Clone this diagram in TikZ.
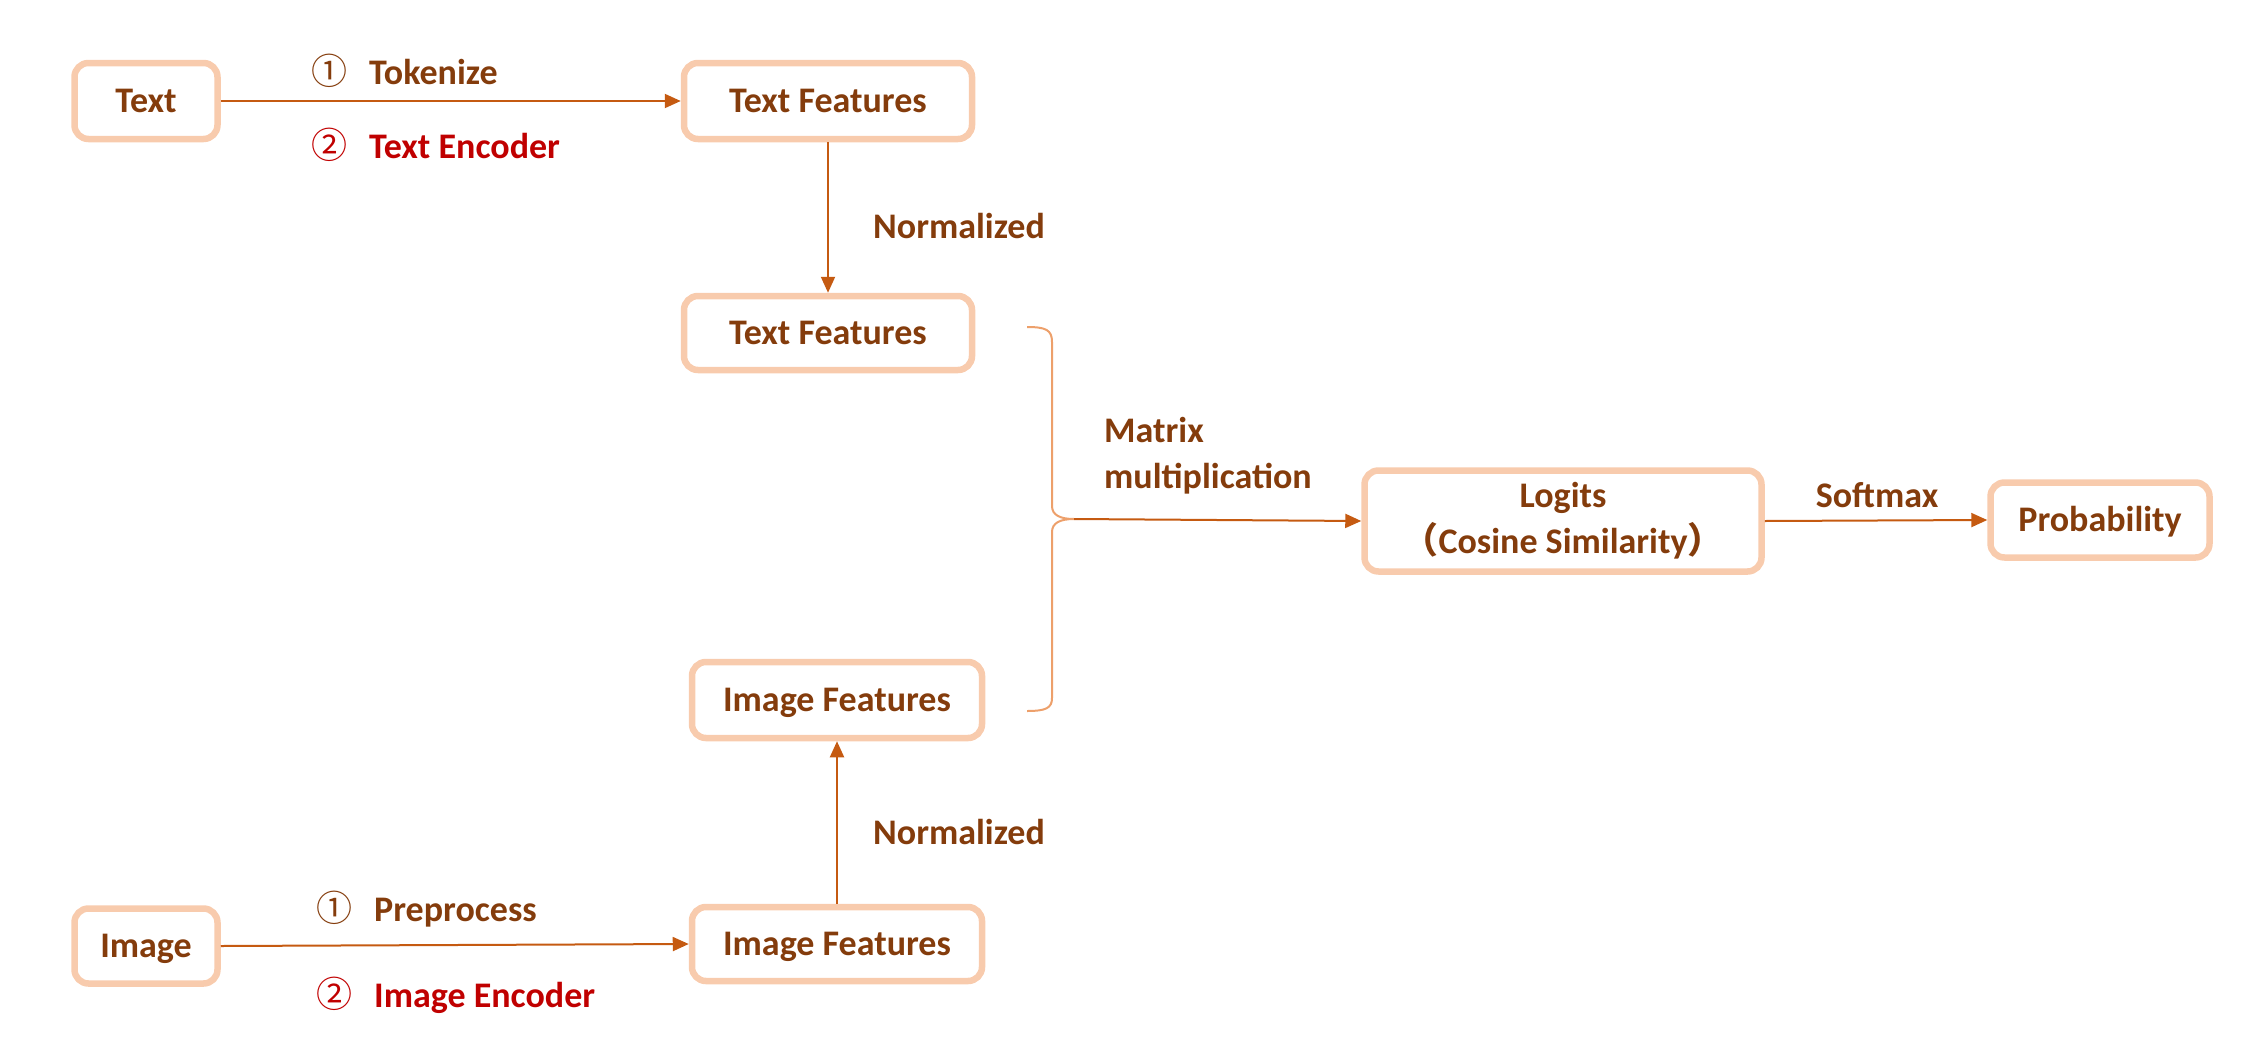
\documentclass[tikz,border=0pt]{standalone}
\usepackage{fontspec}
\setmainfont{Carlito}
\newfontfamily\cjk{Noto Sans CJK SC}
\usetikzlibrary{arrows.meta}
\definecolor{boxc}{HTML}{F8CBAD}
\definecolor{linec}{HTML}{C55A11}
\definecolor{txtc}{HTML}{843C0C}
\definecolor{redc}{HTML}{C00000}
\definecolor{bracec}{HTML}{EDA06B}
\tikzset{
  box/.style={draw=boxc, line width=6.5pt, rounded corners=14pt, inner sep=0pt,
    font=\fontsize{36}{46}\selectfont\bfseries, text=txtc, align=center},
  onebox/.style={box, text height=23pt, text depth=0pt},
  lbl/.style={font=\fontsize{36}{46}\selectfont\bfseries, text=txtc, inner sep=0pt},
  conn/.style={draw=linec, line width=2pt, -{Triangle[length=16pt,width=14pt]}},
  bracepath/.style={draw=bracec, line width=2pt}
}
\begin{document}
\begin{tikzpicture}[x=1pt,y=-1pt]
\useasboundingbox (0,0) rectangle (2242,1052);
\node[onebox, minimum width=143pt, minimum height=76pt] (text) at (146,101) {Text};
\node[onebox, minimum width=288pt, minimum height=76pt] (tf1) at (828,101) {Text Features};
\node[onebox, minimum width=288pt, minimum height=74pt] (tf2) at (828,333) {Text Features};
\node[onebox, minimum width=290pt, minimum height=76pt] (if2) at (837,700) {Image Features};
\node[onebox, minimum width=290pt, minimum height=74pt] (if1) at (837,944) {Image Features};
\node[onebox, minimum width=143pt, minimum height=75pt] (img) at (146,946) {Image};
\node[box, minimum width=397pt, minimum height=101pt] (logits) at (1563,521) {Logits\\{\cjk （}Cosine Similarity{\cjk ）}};
\node[onebox, minimum width=219pt, minimum height=75pt] (prob) at (2100,520) {Probability};

\node[lbl, anchor=west] (tok) at (311,71) {{\cjk\mdseries ①}\hspace{22pt}Tokenize};
\node[lbl, anchor=west, text=redc] (tenc) at (311,145) {{\cjk\mdseries ②}\hspace{22pt}Text Encoder};
\node[lbl, anchor=west] (norm1) at (873,226) {Normalized};
\node[lbl, anchor=west, align=left] (mm) at (1104,456) {Matrix\\multiplication};
\node[lbl] (soft) at (1877,495) {Softmax};
\node[lbl, anchor=west] (norm2) at (873,832) {Normalized};
\node[lbl, anchor=west] (pre) at (316,909) {{\cjk\mdseries ①}\hspace{22pt}Preprocess};
\node[lbl, anchor=west, text=redc] (ienc) at (316,995) {{\cjk\mdseries ②}\hspace{22pt}Image Encoder};

\coordinate (tip) at (1074,519);
\draw[bracepath] (1027,327) .. controls (1046,327) and (1052,330) .. (1052,342)
  -- (1052,506) .. controls (1052,515) and (1060,519) .. (tip)
  .. controls (1060,519) and (1052,523) .. (1052,532)
  -- (1052,698) .. controls (1052,708) and (1046,711) .. (1027,711);

\draw[conn] (text.east) -- (tf1.west);
\draw[conn] (tf1.south) -- (tf2.north);
\draw[conn] (img.east) -- (if1.west);
\draw[conn] (if1.north) -- (if2.south);
\draw[conn] (tip) -- (logits.west);
\draw[conn] (logits.east) -- (prob.west);
\end{tikzpicture}
\end{document}
